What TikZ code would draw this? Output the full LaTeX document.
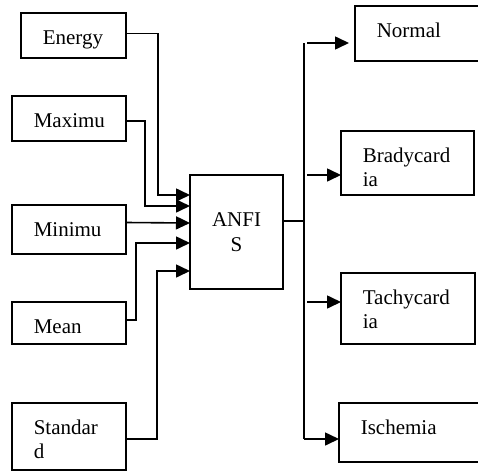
\documentclass[tikz,border=0pt]{standalone}
\usepackage{fontspec}
\setmainfont{Liberation Serif}
\usetikzlibrary{arrows.meta}

\begin{document}
\begin{tikzpicture}[x=1pt, y=-1pt, line width=1.6pt,
    font=\fontsize{21}{24.5}\selectfont]
\tikzset{
  blk/.style={draw, anchor=north west, inner sep=0pt, outer sep=0pt},
  txt/.style={anchor=base west, inner sep=0pt, align=left, text width=120pt},
  wire/.style={line width=1.6pt},
  feed/.style={wire, -{Triangle[length=14pt,width=13pt]}}
}
\useasboundingbox (0,0) rectangle (478,471);
% each block: an empty framed node, text hung from its top left corner
\newcommand{\block}[6]{% #1 name, #2 left, #3 top, #4 width, #5 height, #6 text
  \node[blk, minimum width=#4pt, minimum height=#5pt] (#1) at (#2,#3) {};
  \node[txt] (#1-t) at ([shift={(21pt,-31pt)}]#1.north west) {#6};}
% input features
\block{energy}{21}{13}{105}{45}{Energy}
\block{maxim}{12}{96}{114}{45}{Maximu}
\block{minim}{12}{205}{114}{49}{Minimu}
\block{mean}{12}{302}{114}{42}{Mean}
\block{stdev}{12}{403}{114}{67}{Standar\\d}
% classifier
\node[blk, align=center, minimum width=93pt, minimum height=114pt] (anfis)
  at (190,175) {ANFI\\S};
% output classes (two run off the right edge)
\block{normal}{355}{6}{130}{55}{Normal}
\block{brady}{341}{131}{133}{64}{Bradycard\\ia}
\block{tachy}{341}{273}{134}{71}{Tachycard\\ia}
\block{isch}{339}{403}{146}{59}{Ischemia}
% feature lines into the classifier
\draw[feed] ([yshift=2pt]energy.east) -- ++(32,0) |- ([yshift=37pt]anfis.west);
\draw[feed] ([yshift=-2.5pt]maxim.east) -- ++(19,0) |- ([yshift=26pt]anfis.west);
\draw[feed] ([yshift=7pt]minim.east) -- ([yshift=9pt]anfis.west);
\draw[feed] ([yshift=3pt]mean.east) -- ++(10,0) |- ([yshift=-11pt]anfis.west);
\draw[feed] ([yshift=-2.5pt]stdev.east) -- ++(31,0) |- ([yshift=-39pt]anfis.west);
% output bus
\coordinate (bustop) at (304,43);
\coordinate (busbot) at (304,439);
\coordinate (tapb) at (307,175);
\coordinate (tapt) at (307,302);
\draw[wire] ([yshift=11pt]anfis.east) -- ([yshift=11pt]anfis.east -| bustop);
\draw[wire] (bustop) -- (busbot);
\draw[feed, shorten >=6pt] ([xshift=3pt]bustop) -- (bustop -| normal.west);
\draw[feed] (tapb) -- (tapb -| brady.west);
\draw[feed] (tapt) -- (tapt -| tachy.west);
\draw[feed] (busbot) -- (busbot -| isch.west);
\end{tikzpicture}
\end{document}
